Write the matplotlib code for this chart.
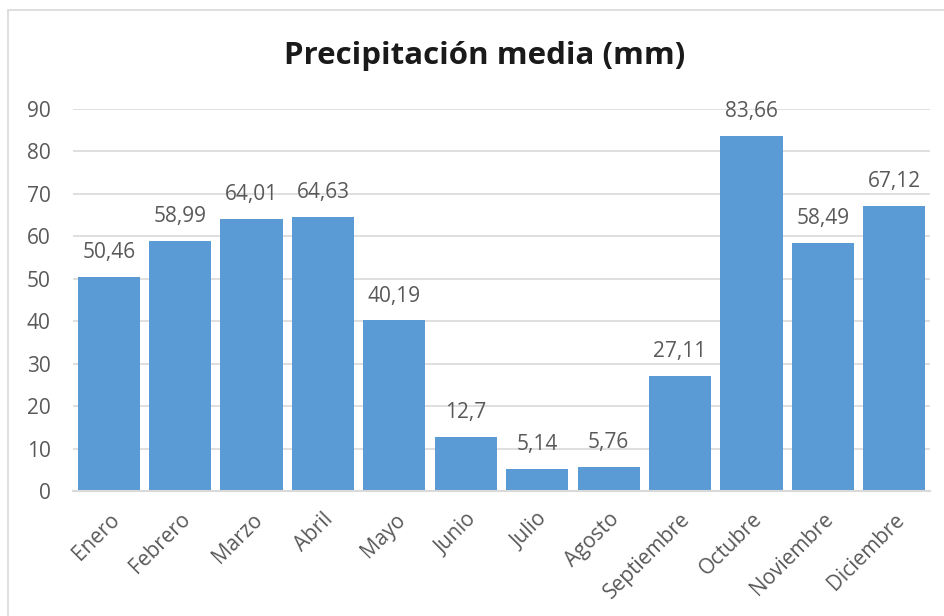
import matplotlib
matplotlib.use("Agg")
import matplotlib.pyplot as plt
from matplotlib.patches import Rectangle

meses = ["Enero", "Febrero", "Marzo", "Abril", "Mayo", "Junio", "Julio",
         "Agosto", "Septiembre", "Octubre", "Noviembre", "Diciembre"]
precipitacion = [50.46, 58.99, 64.01, 64.63, 40.19, 12.7, 5.14,
                 5.76, 27.11, 83.66, 58.49, 67.12]
etiquetas = ["50,46", "58,99", "64,01", "64,63", "40,19", "12,7", "5,14",
             "5,76", "27,11", "83,66", "58,49", "67,12"]
yticks = [0, 10, 20, 30, 40, 50, 60, 70, 80, 90]

plt.rcParams['font.family'] = ['Open Sans', 'DejaVu Sans']

W, H = 944, 616
fig = plt.figure(figsize=(W / 100, H / 100), dpi=100)
fig.patch.set_facecolor("white")

# chart frame
fig.patches.append(Rectangle((8 / W, -0.1), 1.2, 1 - 10 / H + 0.1,
                             transform=fig.transFigure, fill=False,
                             edgecolor="#d9d9d9", linewidth=1.2))

ax = fig.add_axes([73 / W, 1 - 491 / H, (930 - 73) / W, (491 - 109) / H])
x = range(len(meses))
ax.bar(x, precipitacion, width=0.87, color="#5b9bd5", zorder=3)

for xi, v, t in zip(x, precipitacion, etiquetas):
    ax.annotate(t, (xi, v), xytext=(0, 10), textcoords="offset points",
                ha="center", va="bottom", fontsize=15, color="#595959")

ax.set_xlim(-0.5, len(meses) - 0.5)
ax.set_ylim(0, 90)
ax.set_yticks(yticks)
ax.set_yticklabels([str(t) for t in yticks])
ax.yaxis.grid(True, color="#d9d9d9", linewidth=1.2, zorder=0)
for s in ["top", "right", "left"]:
    ax.spines[s].set_visible(False)
ax.spines["bottom"].set_color("#d9d9d9")
ax.spines["bottom"].set_linewidth(1.5)
ax.spines["bottom"].set_zorder(4)
ax.tick_params(axis="both", length=0, colors="#595959", labelsize=15)
ax.tick_params(axis="y", pad=16)
ax.set_xticks(list(x))
ax.set_xticklabels(meses, rotation=45, ha="right", rotation_mode="anchor")
ax.tick_params(axis="x", pad=13)

fig.text(0.513, 1 - 56 / H, "Precipitación media (mm)", ha="center",
         va="center", fontsize=22.5, fontweight="bold", color="#1a1a1a")

fig.savefig("out.png", dpi=100)
